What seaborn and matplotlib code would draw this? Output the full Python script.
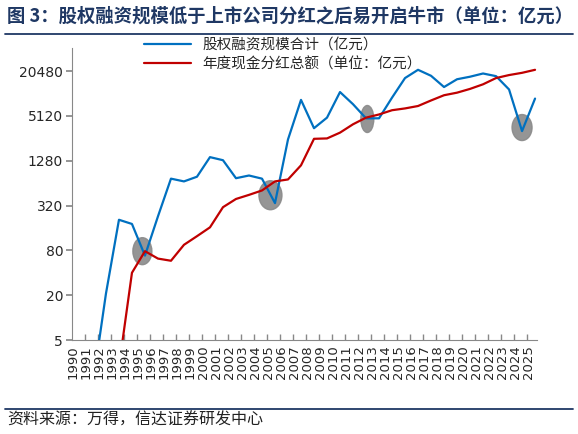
import matplotlib.pyplot as plt
import matplotlib.transforms as mtransforms
import pandas as pd
import seaborn as sns
from matplotlib.patches import Ellipse

# Data (亿元)
years = list(range(1990, 2026))
equity_years = list(range(1991, 2026))
equity_financing = [1.3, 21, 206, 181, 68, 229, 735, 675, 780, 1430,
                    1300, 745, 810, 735, 345, 2470, 8400, 3500, 4850, 10700,
                    7350, 4750, 4750, 9000, 16500, 21300, 17700, 12500, 15900, 17200,
                    19000, 17500, 11600, 3200, 8750]
dividend_years = list(range(1993, 2026))
cash_dividends = [2.2, 40, 78, 62, 58, 95, 124, 163, 304, 392,
                  445, 510, 675, 717, 1110, 2520, 2550, 3050, 3950, 4850,
                  5350, 6100, 6450, 6950, 8250, 9700, 10500, 11800, 13600, 16500,
                  18100, 19400, 21300]
y_ticks = [5, 20, 80, 320, 1280, 5120, 20480]
# highlighted spots: (year position, value)
highlight_x = [1995.3, 2005.15, 2012.6, 2024.5]
highlight_y = [78, 440, 4650, 3570]

blue_label = "股权融资规模合计（亿元）"
red_label = "年度现金分红总额（单位：亿元）"

sns.set_theme(style="white")
plt.rcParams["font.family"] = ["Noto Sans CJK SC", "DejaVu Sans"]

df_eq = pd.DataFrame({"x": [y - 1990 + 0.5 for y in equity_years], "v": equity_financing})
df_dv = pd.DataFrame({"x": [y - 1990 + 0.5 for y in dividend_years], "v": cash_dividends})

fig = plt.figure(figsize=(5.78, 4.34), dpi=100)
ax = fig.add_axes([71.5 / 578, 1 - 340 / 434, (537 - 71.5) / 578, (340 - 48) / 434])

sns.lineplot(data=df_eq, x="x", y="v", ax=ax, color="#0070C0", lw=1.6, label=blue_label, zorder=4)
sns.lineplot(data=df_dv, x="x", y="v", ax=ax, color="#C00000", lw=1.6, label=red_label, zorder=4)

ax.set_yscale("log")
ax.set_ylim(5, 41800)
ax.set_yticks(y_ticks)
ax.set_yticklabels([str(t) for t in y_ticks], fontsize=10, family="DejaVu Sans")
ax.minorticks_off()
ax.set_xlim(-0.15, 35.65)
ax.set_xticks(range(len(years)))
ax.set_xticklabels([str(y) for y in years], rotation=90, fontsize=9.5, family="DejaVu Sans")
ax.set_xticks([k + 0.85 for k in range(len(years) - 1)], minor=True)
ax.tick_params(axis="x", which="major", length=0, pad=4)
ax.tick_params(axis="x", which="minor", length=4, direction="in", color="#888888", bottom=True)
ax.tick_params(axis="y", length=4, direction="out", color="#888888", left=True, pad=2)
ax.set_xlabel("")
ax.set_ylabel("")
for s in ["top", "right"]:
    ax.spines[s].set_visible(False)
for s in ["left", "bottom"]:
    ax.spines[s].set_color("#888888")
    ax.spines[s].set_linewidth(0.8)

# gray highlight ellipses (size in inches, centred on data points)
sizes = [(0.19, 0.27), (0.23, 0.29), (0.13, 0.27), (0.20, 0.26)]
for hx, hy, (w, h) in zip(highlight_x, highlight_y, sizes):
    trans = fig.dpi_scale_trans + mtransforms.ScaledTranslation(hx - 1990, hy, ax.transData)
    ax.add_artist(Ellipse((0, 0), w, h, transform=trans, color="#8a8a8a", alpha=0.9, zorder=3))

ax.legend(loc="upper left", bbox_to_anchor=(138 / 578, 1 - 32 / 434),
          bbox_transform=fig.transFigure, frameon=False, fontsize=10.5,
          handlelength=3.2, labelspacing=0.35, borderaxespad=0)

fig.text(0.012, 1 - 16 / 434, "图 3：股权融资规模低于上市公司分红之后易开启牛市（单位：亿元）",
         fontsize=13.2, fontweight="bold", color="#1F3864", va="center")
fig.add_artist(plt.Line2D([0.008, 0.992], [1 - 34 / 434] * 2, color="#1F3864", lw=1.3))
fig.add_artist(plt.Line2D([0.008, 0.992], [1 - 408.5 / 434] * 2, color="#1F3864", lw=1.3))
fig.text(0.012, 1 - 420 / 434, "资料来源：万得，信达证券研发中心",
         fontsize=11.5, style="italic", color="#222222", va="center")

fig.savefig("out.png", dpi=100)
